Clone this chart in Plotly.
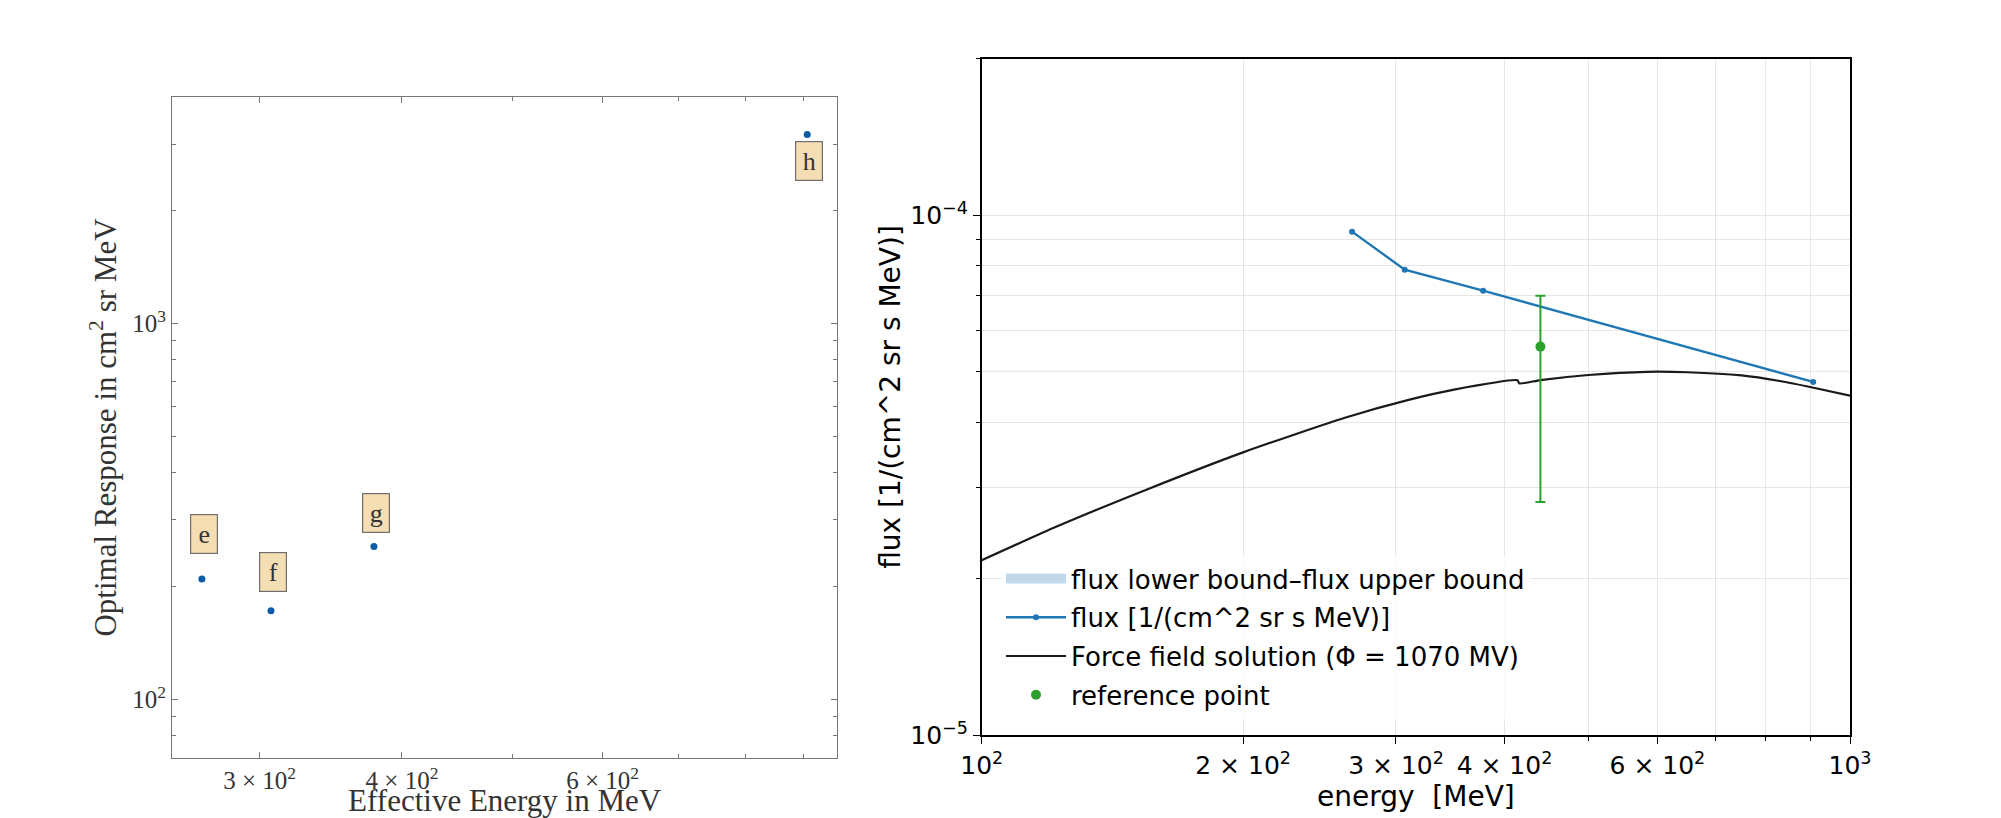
import math
import plotly.graph_objects as go

# ---- left panel: optimal response per channel ----
eff_energy = [267, 307, 378, 907]          # MeV
opt_response = [209, 172, 255, 3180]       # cm^2 sr MeV
channel_labels = ["e", "f", "g", "h"]
label_shift_px = [45, 39, 33, -26]          # vertical offset of each label box

# ---- right panel: flux spectrum ----
flux = [9.30e-5, 7.86e-5, 7.16e-5, 4.78e-5]   # 1/(cm^2 sr s MeV), at eff_energy

ref_energy = [440]
ref_flux = [5.59e-5]
ref_err_plus = [1.41e-5]
ref_err_minus = [2.78e-5]

ff_energy = [100, 122, 155, 200, 262, 311, 350, 414, 416, 440, 500, 583,
             650, 750, 830, 908, 1000]
ff_flux = [2.17e-5, 2.52e-5, 2.97e-5, 3.50e-5, 4.08e-5, 4.42e-5, 4.62e-5,
           4.815e-5, 4.75e-5, 4.82e-5, 4.93e-5, 5.00e-5, 4.99e-5, 4.92e-5,
           4.80e-5, 4.66e-5, 4.50e-5]

left_xticks = [300, 400, 600]
left_xtick_text = ["3 × 10<sup>2</sup>", "4 × 10<sup>2</sup>", "6 × 10<sup>2</sup>"]
left_xminor = [500, 700, 800, 900]
left_yticks = [100, 1000]
left_ytick_text = ["10<sup>2</sup>", "10<sup>3</sup>"]
left_yminor = [80, 90, 200, 300, 400, 500, 600, 700, 800, 900, 2000, 3000]

right_xticks = [100, 200, 300, 400, 600, 1000]
right_xtick_text = ["10<sup>2</sup>", "2 × 10<sup>2</sup>", "3 × 10<sup>2</sup>",
                    "4 × 10<sup>2</sup>", "6 × 10<sup>2</sup>", "10<sup>3</sup>"]
right_xminor = [500, 700, 800, 900]
right_yticks = [1e-5, 1e-4]
right_ytick_text = ["10<sup>−5</sup>", "10<sup>−4</sup>"]
right_yminor = [2e-5, 3e-5, 4e-5, 5e-5, 6e-5, 7e-5, 8e-5, 9e-5, 2e-4]

SERIF = "Liberation Serif"
SANS = "DejaVu Sans"
W, H = 2001, 818

fig = go.Figure()

# left panel markers
fig.add_trace(go.Scatter(
    x=eff_energy, y=opt_response, mode="markers",
    marker=dict(color="#0C5DA5", size=7),
    xaxis="x", yaxis="y", showlegend=False,
))

# channel letter boxes
for xe, yr, lab, dy in zip(eff_energy, opt_response, channel_labels, label_shift_px):
    fig.add_annotation(
        x=math.log10(xe), y=math.log10(yr), xref="x", yref="y",
        text=lab, showarrow=False, yshift=dy, xshift=2,
        font=dict(family=SERIF, size=26, color="#333333"),
        bgcolor="#F5DEB3", bordercolor="#6E6E6E", borderwidth=1.2,
        borderpad=4, width=18, height=30,
    )

# right panel: uncertainty band (legend entry only, drawn as a wide swatch)
fig.add_trace(go.Scatter(
    x=[None], y=[None], mode="lines",
    line=dict(width=18, color="rgba(31,119,180,0.28)"),
    name="flux lower bound–flux upper bound", xaxis="x2", yaxis="y2",
    legendgroup="a",
))
fig.add_trace(go.Scatter(
    x=eff_energy, y=flux, mode="lines+markers",
    line=dict(color="#1F77B4", width=2.4), marker=dict(color="#1F77B4", size=6),
    name="flux [1/(cm^2 sr s MeV)]", xaxis="x2", yaxis="y2", legendgroup="b",
))
fig.add_trace(go.Scatter(
    x=ff_energy, y=ff_flux, mode="lines",
    line=dict(color="#1A1A1A", width=2.2, shape="spline", smoothing=0.6),
    name="Force field solution (Φ = 1070 MV)", xaxis="x2", yaxis="y2",
    legendgroup="c",
))
fig.add_trace(go.Scatter(
    x=ref_energy, y=ref_flux, mode="markers",
    marker=dict(color="#2CA02C", size=10),
    error_y=dict(type="data", symmetric=False, array=ref_err_plus,
                 arrayminus=ref_err_minus, color="#2CA02C", thickness=2, width=5),
    name="reference point", xaxis="x2", yaxis="y2", legendgroup="d",
))

left_axis_common = dict(
    type="log", showgrid=False, zeroline=False,
    showline=True, linecolor="#777777", linewidth=1, mirror="allticks",
    ticks="inside", ticklen=6, tickcolor="#777777", tickwidth=1,
    tickfont=dict(family=SERIF, size=25, color="#333333"),
    tickmode="array",
)

fig.update_layout(
    width=W, height=H,
    paper_bgcolor="white", plot_bgcolor="white",
    margin=dict(l=0, r=0, t=0, b=0),
    xaxis=dict(
        **left_axis_common, domain=[172 / W, 837.3 / W], anchor="y",
        range=[2.4003, 2.984], tickvals=left_xticks, ticktext=left_xtick_text,
        minor=dict(tickmode="array", tickvals=left_xminor, ticks="inside",
                   ticklen=4, tickcolor="#777777"),
        title=dict(text="Effective Energy in MeV", standoff=9,
                   font=dict(family=SERIF, size=31, color="#333333")),
        automargin=False,
    ),
    yaxis=dict(
        **left_axis_common, domain=[1 - 758.3 / H, 1 - 96.7 / H], anchor="x",
        range=[1.843, 3.603], tickvals=left_yticks, ticktext=left_ytick_text,
        minor=dict(tickmode="array", tickvals=left_yminor, ticks="inside",
                   ticklen=4, tickcolor="#777777"),
        title=dict(text="Optimal Response in cm<sup>2</sup> sr MeV", standoff=6,
                   font=dict(family=SERIF, size=31, color="#333333")),
        automargin=False,
    ),
    xaxis2=dict(
        type="log", domain=[981.7 / W, 1850 / W], anchor="y2",
        range=[2, 3], zeroline=False,
        showline=True, linecolor="black", linewidth=1.6, mirror=True,
        ticks="outside", ticklen=7, tickwidth=1.3, tickcolor="black",
        tickmode="array", tickvals=right_xticks, ticktext=right_xtick_text,
        tickfont=dict(family=SANS, size=25, color="black"),
        showgrid=True, gridcolor="#E6E6E6", gridwidth=1,
        minor=dict(tickmode="array", tickvals=right_xminor, ticks="outside",
                   ticklen=4, tickcolor="black", showgrid=True,
                   gridcolor="#E6E6E6", gridwidth=1),
        title=dict(text="energy\u00a0 [MeV]", standoff=6,
                   font=dict(family=SANS, size=28, color="black")),
        automargin=False,
    ),
    yaxis2=dict(
        type="log", domain=[1 - 735.3 / H, 1 - 58.7 / H], anchor="x2",
        range=[-5, -3.69897], zeroline=False,
        showline=True, linecolor="black", linewidth=1.6, mirror=True,
        ticks="outside", ticklen=7, tickwidth=1.3, tickcolor="black",
        tickmode="array", tickvals=right_yticks, ticktext=right_ytick_text,
        tickfont=dict(family=SANS, size=25, color="black"),
        showgrid=True, gridcolor="#E6E6E6", gridwidth=1,
        minor=dict(tickmode="array", tickvals=right_yminor, ticks="outside",
                   ticklen=4, tickcolor="black", showgrid=True,
                   gridcolor="#E6E6E6", gridwidth=1),
        title=dict(text="flux [1/(cm^2 sr s MeV)]", standoff=1,
                   font=dict(family=SANS, size=28, color="black")),
        automargin=False,
    ),
    legend=dict(
        x=1001 / W, y=1 - 555 / H, xanchor="left", yanchor="top",
        bgcolor="rgba(255,255,255,0.8)", borderwidth=0,
        font=dict(family=SANS, size=26, color="black"),
        itemwidth=60, tracegroupgap=2,
    ),
)

fig.write_html("out.html")
